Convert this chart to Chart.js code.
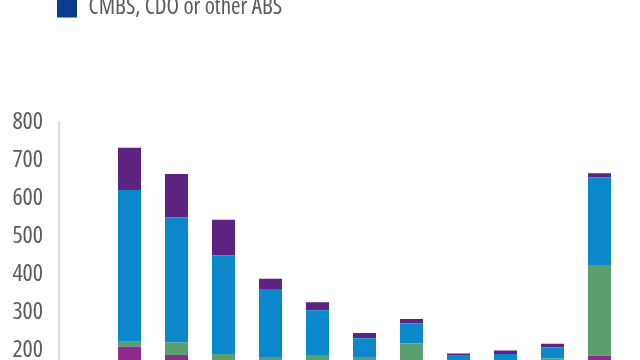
<!DOCTYPE html>
<html><head><meta charset="utf-8">
<script src="https://cdn.jsdelivr.net/npm/chart.js@4"></script>
<style>
html,body{margin:0;padding:0;width:640px;height:360px;overflow:hidden;background:#fff}
#wrap{position:absolute;left:0;top:-52px;width:640px;height:523px}
</style></head><body>
<div id="wrap"><canvas id="c"></canvas></div>
<script>
const categories = ['2006','2007','2008','2009','2010','2011','2012','2013','2014','2015','2016','2017'];
const yTicks = [0,100,200,300,400,500,600,700,800];
const cmbsCdo   = [30, 70, 60, 40, 40, 40, 40, 40, 30, 30, 30, 40];
const magentaS  = [40, 139, 127, 30, 30, 40, 40, 30, 30, 40, 40, 145];
const greenS    = [30, 13, 33, 120, 112, 107, 102, 148, 100, 102, 108, 239];
const blueS     = [20, 399, 329, 259, 179, 118, 49, 53, 25, 18, 29, 230];
const purpleS   = [5, 111, 114, 94, 27, 21, 14, 11, 6, 9, 10, 11];
const seriesNames = ['CMBS, CDO or other ABS','Other series A','Other series B','Other series C','Other series D'];

const legendGap = {
  id:'legendGap',
  beforeInit(chart){
    const orig = chart.legend.fit;
    chart.legend.fit = function(){ orig.call(this); this.height += 93; };
  }
};
new Chart(document.getElementById('c'), {
  type:'bar',
  data:{
    labels: categories,
    datasets:[
      {label:seriesNames[0], data:cmbsCdo,  backgroundColor:'#0d3b8e'},
      {label:seriesNames[1], data:magentaS, backgroundColor:'#8f2a8f'},
      {label:seriesNames[2], data:greenS,   backgroundColor:'#5a9f6d'},
      {label:seriesNames[3], data:blueS,    backgroundColor:'#0a88cb'},
      {label:seriesNames[4], data:purpleS,  backgroundColor:'#5c2381'}
    ]
  },
  options:{
    responsive:true, maintainAspectRatio:false, animation:false,
    layout:{padding:{left:9,right:17,top:0,bottom:10}},
    datasets:{bar:{barPercentage:0.49,categoryPercentage:1,borderWidth:0}},
    plugins:{
      legend:{display:true,position:'top',align:'start',
        labels:{boxWidth:20,boxHeight:20,padding:48,color:'#5a5a5a',
          font:{family:"'Open Sans'",weight:'condensed',size:23},
          filter:(it)=>it.datasetIndex===0}},
      tooltip:{enabled:false}
    },
    scales:{
      x:{stacked:true,grid:{display:false,drawTicks:false},border:{display:false},
        ticks:{color:'#5a5a5a',maxRotation:0,minRotation:0,autoSkip:false,font:{family:"'Open Sans'",weight:'condensed',size:24}}},
      y:{stacked:true,min:0,max:800,
        grid:{display:false,drawTicks:false},
        border:{display:true,color:'#dcdcdc',width:2},
        afterBuildTicks:(s)=>{s.ticks=yTicks.map(v=>({value:v}));},
        afterFit:(s)=>{s.width=50;},
        ticks:{padding:16,color:'#5a5a5a',font:{family:"'Open Sans'",weight:'condensed',size:24}}}
    }
  },
  plugins:[legendGap]
});
</script>
</body></html>
